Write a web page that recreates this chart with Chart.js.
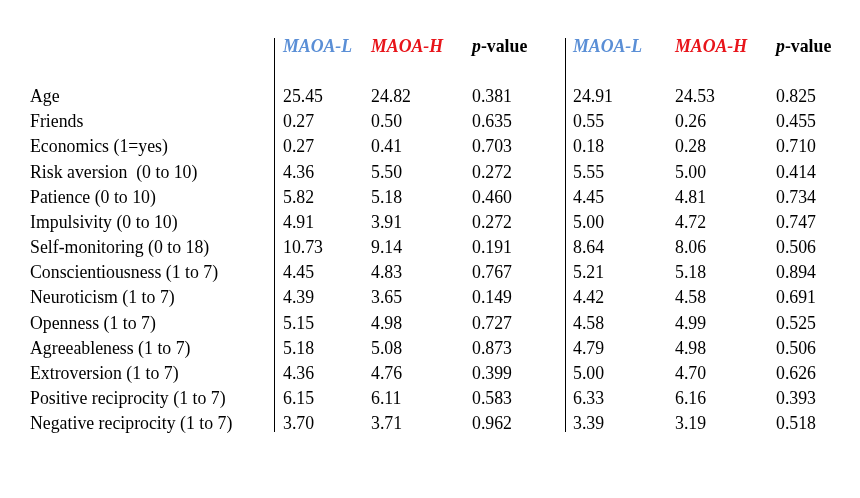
<!DOCTYPE html>
<html><head><meta charset="utf-8">
<script src="https://cdn.jsdelivr.net/npm/chart.js@4/dist/chart.umd.min.js"></script>
<style>html,body{margin:0;padding:0;background:#fff}#w{width:860px;height:498px}</style>
</head><body><div id="w"><canvas id="c"></canvas></div>
<script>
const headers = ["MAOA-L","MAOA-H","p-value","MAOA-L","MAOA-H","p-value"];
const rowLabels = ["Age","Friends","Economics (1=yes)","Risk aversion  (0 to 10)","Patience (0 to 10)","Impulsivity (0 to 10)","Self-monitoring (0 to 18)","Conscientiousness (1 to 7)","Neuroticism (1 to 7)","Openness (1 to 7)","Agreeableness (1 to 7)","Extroversion (1 to 7)","Positive reciprocity (1 to 7)","Negative reciprocity (1 to 7)"];
const g1L = ["25.45","0.27","0.27","4.36","5.82","4.91","10.73","4.45","4.39","5.15","5.18","4.36","6.15","3.70"];
const g1H = ["24.82","0.50","0.41","5.50","5.18","3.91","9.14","4.83","3.65","4.98","5.08","4.76","6.11","3.71"];
const g1P = ["0.381","0.635","0.703","0.272","0.460","0.272","0.191","0.767","0.149","0.727","0.873","0.399","0.583","0.962"];
const g2L = ["24.91","0.55","0.18","5.55","4.45","5.00","8.64","5.21","4.42","4.58","4.79","5.00","6.33","3.39"];
const g2H = ["24.53","0.26","0.28","5.00","4.81","4.72","8.06","5.18","4.58","4.99","4.98","4.70","6.16","3.19"];
const g2P = ["0.825","0.455","0.710","0.414","0.734","0.747","0.506","0.894","0.691","0.525","0.506","0.626","0.393","0.518"];

const colX = [30, 283, 371, 472, 573, 675, 776];
const columns = [rowLabels, g1L, g1H, g1P, g2L, g2H, g2P];
const step = 25.15, y0 = 97.5;
const FONT = '"Liberation Serif", "Times New Roman", serif';
const FS = '17.8px ';

const tablePlugin = {
  id: 'table',
  afterDraw(chart) {
    const ctx = chart.ctx, xs = chart.scales.x, ys = chart.scales.y;
    ctx.save();
    ctx.textBaseline = 'middle';
    ctx.fillStyle = '#000';
    ctx.font = FS + FONT;
    columns.forEach((col, ci) => {
      col.forEach((t, ri) => ctx.fillText(t, xs.getPixelForValue(colX[ci]), ys.getPixelForValue(ri)));
    });
    const hy = ys.getPixelForValue(-2);
    headers.forEach((h, i) => {
      const x = xs.getPixelForValue(colX[i + 1]);
      if (h === 'p-value') {
        ctx.fillStyle = '#000';
        ctx.font = 'italic bold ' + FS + FONT;
        ctx.fillText('p', x, hy);
        const w = ctx.measureText('p').width;
        ctx.font = 'bold ' + FS + FONT;
        ctx.fillText('-value', x + w, hy);
      } else {
        ctx.fillStyle = h === 'MAOA-L' ? '#5b8fd6' : '#e8151b';
        ctx.font = 'italic bold ' + FS + FONT;
        ctx.fillText(h, x, hy);
      }
    });
    ctx.strokeStyle = '#000';
    ctx.lineWidth = 1;
    [273.5, 564.5].forEach(v => {
      const x = Math.round(xs.getPixelForValue(v)) + 0.5;
      ctx.beginPath();
      ctx.moveTo(x, 38);
      ctx.lineTo(x, 432);
      ctx.stroke();
    });
    ctx.restore();
  }
};

new Chart(document.getElementById('c'), {
  type: 'scatter',
  data: { datasets: [{ data: [], pointRadius: 0 }] },
  options: {
    responsive: true, maintainAspectRatio: false, animation: false,
    layout: { padding: 0 },
    plugins: { legend: { display: false }, tooltip: { enabled: false } },
    scales: {
      x: { type: 'linear', display: false, min: 0, max: 860 },
      y: { type: 'linear', display: false, reverse: true, min: -y0 / step, max: (498 - y0) / step }
    }
  },
  plugins: [tablePlugin]
});
</script></body></html>
